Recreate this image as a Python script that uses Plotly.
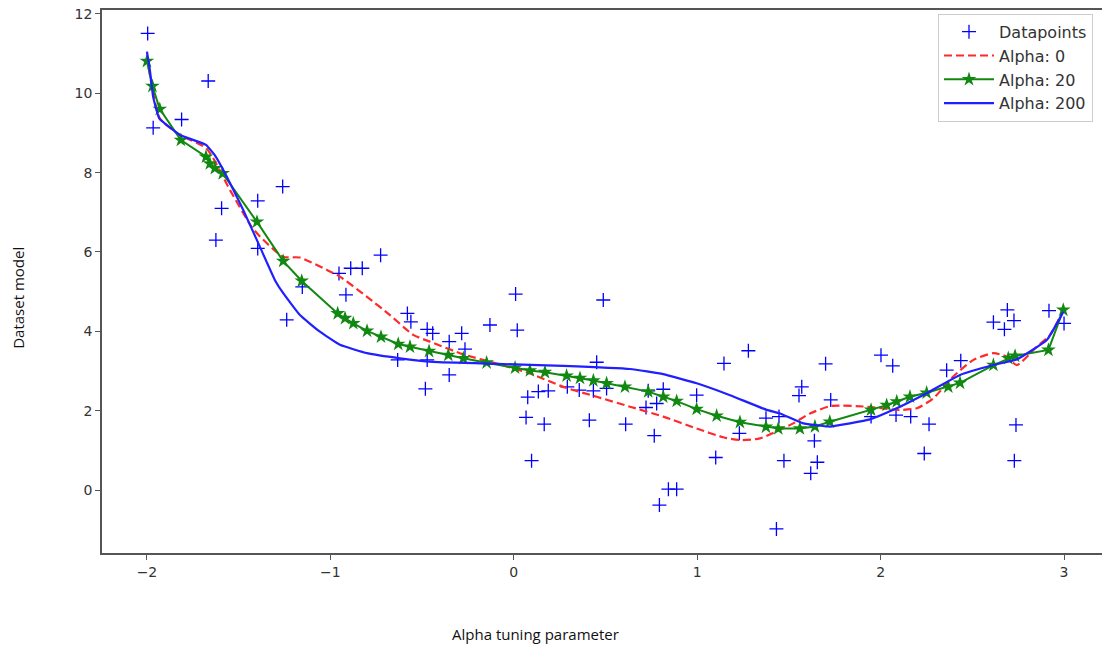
import plotly.graph_objects as go

# ---- data ----
data_x = [-1.996, -1.666, -1.966, -1.811, -1.26, -1.396, -1.593, -1.624, -1.396, -0.726,
          -0.953, -0.889, -0.826, -0.915, -1.153, -1.238, -0.58, -0.561, -0.472, -0.442,
          -0.633, -0.472, -0.482, -0.284, -0.352, -0.266, -0.13, 0.01, 0.019, -0.352,
          0.488, 0.452, 0.076, 0.134, 0.188, 0.067, 0.166, 0.097, 0.292, 0.357,
          0.434, 0.506, 0.412, 0.61, 0.733, 0.815, 0.721, 0.779, 0.766, 0.997,
          1.146, 1.279, 1.375, 1.23, 1.101, 0.843, 0.888, 0.794, 1.446, 1.473,
          1.432, 1.570, 1.555, 1.70, 1.728, 1.639, 1.655, 1.619, 2.002, 2.066,
          1.948, 2.084, 2.164, 2.264, 2.238, 2.36, 2.437, 2.615, 2.691, 2.727,
          2.675, 2.738, 2.729, 2.918, 3.0]
data_y = [11.51, 10.31, 9.13, 9.34, 7.65, 7.29, 7.10, 6.30, 6.09, 5.92,
          5.46, 5.59, 5.59, 4.92, 5.12, 4.29, 4.45, 4.24, 4.05, 3.95,
          3.28, 3.28, 2.55, 3.95, 3.74, 3.55, 4.16, 4.94, 4.03, 2.90,
          4.79, 3.22, 2.34, 2.48, 2.50, 1.83, 1.66, 0.74, 2.60, 2.52,
          2.50, 2.56, 1.76, 1.66, 2.50, 2.54, 2.08, 2.18, 1.37, 2.39,
          3.19, 3.51, 1.81, 1.43, 0.82, 0.02, 0.02, -0.38, 1.85, 0.74,
          -0.98, 2.60, 2.38, 3.18, 2.27, 1.24, 0.70, 0.42, 3.40, 3.13,
          1.85, 1.89, 1.85, 1.66, 0.92, 3.02, 3.26, 4.23, 4.54, 4.27,
          4.05, 1.64, 0.74, 4.52, 4.20]

alpha0_x = [-2.0, -1.97, -1.93, -1.82, -1.675, -1.547, -1.43, -1.384, -1.257, -1.166,
            -1.02, -0.948, -0.80, -0.675, -0.548, -0.457, -0.275, -0.093, 0.088, 0.27,
            0.452, 0.634, 0.815, 0.997, 1.142, 1.233, 1.342, 1.524, 1.615, 1.733,
            1.924, 2.106, 2.197, 2.287, 2.396, 2.506, 2.615, 2.688, 2.742, 2.851,
            2.924, 2.987]
alpha0_y = [10.95, 10.1, 9.37, 8.95, 8.61, 7.56, 6.64, 6.39, 5.88, 5.86,
            5.55, 5.38, 4.87, 4.41, 3.91, 3.74, 3.42, 3.19, 2.94, 2.60,
            2.35, 2.10, 1.85, 1.55, 1.33, 1.26, 1.30, 1.68, 1.93, 2.12,
            2.10, 2.02, 2.06, 2.31, 2.86, 3.28, 3.45, 3.36, 3.15, 3.61,
            3.91, 4.45]

alpha20_x = [-2.0, -1.97, -1.93, -1.815, -1.678, -1.657, -1.63, -1.587, -1.40, -1.257,
             -1.156, -0.96, -0.92, -0.875, -0.80, -0.724, -0.63, -0.566, -0.462, -0.357,
             -0.275, -0.148, 0.007, 0.088, 0.17, 0.288, 0.361, 0.434, 0.506, 0.606,
             0.733, 0.815, 0.888, 0.997, 1.106, 1.233, 1.375, 1.442, 1.56, 1.642,
             1.723, 1.948, 2.033, 2.088, 2.16, 2.251, 2.369, 2.433, 2.615, 2.696,
             2.733, 2.915, 2.996]
alpha20_y = [10.81, 10.18, 9.60, 8.82, 8.40, 8.23, 8.11, 7.98, 6.76, 5.77,
             5.27, 4.45, 4.33, 4.20, 4.01, 3.86, 3.68, 3.61, 3.50, 3.40,
             3.32, 3.21, 3.08, 3.01, 2.97, 2.88, 2.82, 2.76, 2.69, 2.60,
             2.48, 2.35, 2.24, 2.04, 1.87, 1.71, 1.59, 1.55, 1.55, 1.60,
             1.72, 2.02, 2.14, 2.23, 2.35, 2.45, 2.60, 2.70, 3.15, 3.32,
             3.38, 3.53, 4.54]

alpha200_x = [-2.0, -1.984, -1.966, -1.933, -1.82, -1.678, -1.63, -1.565, -1.475, -1.384,
              -1.302, -1.257, -1.166, -1.057, -0.948, -0.80, -0.62, -0.44, -0.093, 0.27,
              0.634, 0.815, 0.997, 1.179, 1.379, 1.451, 1.578, 1.723, 1.942, 2.069,
              2.251, 2.433, 2.615, 2.742, 2.906, 2.996]
alpha200_y = [11.05, 10.59, 9.91, 9.37, 8.95, 8.70, 8.44, 7.90, 7.06, 6.13,
              5.29, 4.96, 4.41, 3.99, 3.66, 3.45, 3.32, 3.23, 3.18, 3.13,
              3.05, 2.92, 2.69, 2.39, 2.02, 1.93, 1.68, 1.60, 1.78, 2.02,
              2.44, 2.90, 3.15, 3.29, 3.78, 4.49]

x_ticks = [-2, -1, 0, 1, 2, 3]
y_ticks = [0, 2, 4, 6, 8, 10, 12]

fig = go.Figure()
fig.add_trace(go.Scatter(
    x=data_x, y=data_y, mode="markers", name="Datapoints",
    marker=dict(symbol="cross-thin", size=10, color="#0000ff",
                line=dict(color="#0000ff", width=1.3)),
))
fig.add_trace(go.Scatter(
    x=alpha0_x, y=alpha0_y, mode="lines", name="Alpha: 0",
    line=dict(color="#ff2a2a", width=2.2, dash="8px,4px", shape="spline", smoothing=0.6),
))
fig.add_trace(go.Scatter(
    x=alpha20_x, y=alpha20_y, mode="lines+markers", name="Alpha: 20",
    line=dict(color="#118811", width=2),
    marker=dict(symbol="star", size=11, color="#118811"),
))
fig.add_trace(go.Scatter(
    x=alpha200_x, y=alpha200_y, mode="lines", name="Alpha: 200",
    line=dict(color="#1f1fff", width=2.2, shape="spline", smoothing=0.35),
))

axis_common = dict(
    showgrid=False, zeroline=False, showline=True, linecolor="#555555", linewidth=1.5,
    ticks="outside", ticklen=5, tickcolor="#555555", tickwidth=1.2, automargin=False,
    ticklabeloverflow="allow",
    tickfont=dict(family="DejaVu Sans", size=14, color="#333333"),
)
fig.update_xaxes(range=[-2.245, 3.207], tickvals=x_ticks, mirror=True, **axis_common)
fig.update_yaxes(range=[-1.588, 12.10], tickvals=y_ticks, **axis_common)

fig.update_layout(
    width=1102, height=648,
    margin=dict(l=102, r=0, t=10, b=95, autoexpand=False),
    paper_bgcolor="white", plot_bgcolor="white",
    showlegend=True,
    legend=dict(x=0.991, y=0.993, xanchor="right", yanchor="top",
                bgcolor="rgba(255,255,255,0.9)", bordercolor="#cccccc", borderwidth=1,
                font=dict(family="DejaVu Sans", size=16, color="#333333"),
                tracegroupgap=0, itemwidth=50),
    annotations=[
        dict(text="Alpha tuning parameter", xref="paper", yref="paper",
             x=0.433, y=-0.149, xanchor="center", yanchor="middle", showarrow=False,
             font=dict(family="Open Sans", size=15, color="#111111")),
        dict(text="Dataset model", xref="paper", yref="paper",
             x=-0.084, y=0.47, xanchor="center", yanchor="middle", showarrow=False,
             textangle=-90, font=dict(family="Open Sans", size=15, color="#111111")),
    ],
)

# remove the default 8px page margin so the figure fills the window exactly
fig.write_html("out.html", config={"displayModeBar": False},
               post_script="document.body.style.margin='0px';")
